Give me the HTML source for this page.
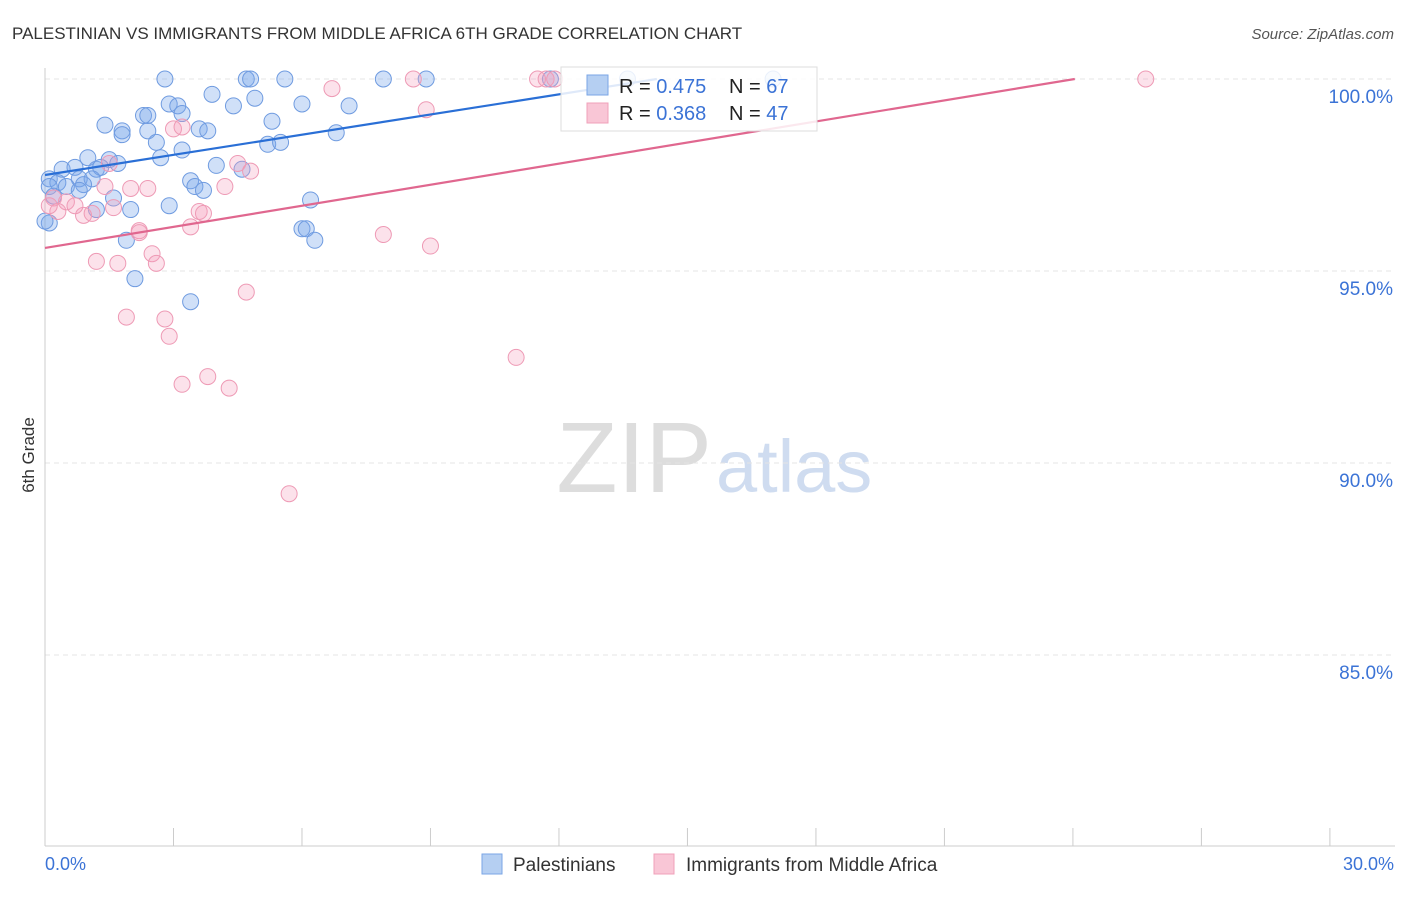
<!DOCTYPE html>
<html><head><meta charset="utf-8"><style>
body{margin:0;background:#fff;font-family:"Liberation Sans",sans-serif}
svg text{font-family:"Liberation Sans",sans-serif}
</style></head><body>
<svg id="c" width="1406" height="892" xmlns="http://www.w3.org/2000/svg">
<text x="12" y="39" font-size="17" fill="#333">PALESTINIAN VS IMMIGRANTS FROM MIDDLE AFRICA 6TH GRADE CORRELATION CHART</text>
<text x="1394" y="39" font-size="15" fill="#555" text-anchor="end" font-style="italic">Source: ZipAtlas.com</text>
<text x="712" y="492" font-size="100" fill="#ddd" text-anchor="end" font-family="Liberation Serif">ZIP</text>
<text x="716" y="492" font-size="74" fill="#cfdcf0">atlas</text>
<text transform="translate(34,455) rotate(-90)" font-size="17" fill="#333" text-anchor="middle">6th Grade</text>
<g id="grid"></g><g id="marks"></g>
<g>
<rect x="561" y="67" width="256" height="64" fill="rgba(255,255,255,0.85)" stroke="#ddd"/>
<rect x="587" y="75" width="21" height="20" fill="#b5cff2" stroke="#7aa6e6"/>
<rect x="587" y="103" width="21" height="20" fill="#f9c6d6" stroke="#f0a0ba"/>
<text x="619" y="93" font-size="20" fill="#222">R = <tspan fill="#3b73d6">0.475</tspan></text>
<text x="729" y="93" font-size="20" fill="#222">N = <tspan fill="#3b73d6">67</tspan></text>
<text x="619" y="120" font-size="20" fill="#222">R = <tspan fill="#3b73d6">0.368</tspan></text>
<text x="729" y="120" font-size="20" fill="#222">N = <tspan fill="#3b73d6">47</tspan></text>
</g>
<g>
<rect x="482" y="854" width="20" height="20" fill="#b5cff2" stroke="#7aa6e6"/>
<text x="513" y="871" font-size="19" fill="#333">Palestinians</text>
<rect x="654" y="854" width="20" height="20" fill="#f9c6d6" stroke="#f0a0ba"/>
<text x="686" y="871" font-size="19" fill="#333">Immigrants from Middle Africa</text>
</g>
</svg>
<script>
const yTicks=[100,95,90,85];
const xTickLabels=["0.0%","30.0%"];
const blueX=[2.8,4.7,4.8,5.6,7.9,8.9,13.6,17.0,11.8,3.9,4.9,2.9,3.1,4.4,6.0,7.1,2.3,2.4,3.2,5.3,1.4,1.8,1.8,2.4,3.6,3.8,6.8,2.6,3.2,5.2,5.5,2.7,1.0,1.5,0.4,0.7,1.2,1.7,1.3,4.0,4.6,0.1,0.3,0.8,1.1,0.1,0.5,0.9,0.8,3.4,3.5,3.7,0.2,1.6,6.2,1.2,2.0,2.9,6.0,6.1,6.3,1.9,2.1,3.4,0.1,0.0];
const blueY=[100,100,100,100,100,100,100,100,100,99.6,99.5,99.35,99.3,99.3,99.35,99.3,99.05,99.05,99.1,98.9,98.8,98.65,98.55,98.65,98.7,98.65,98.6,98.35,98.15,98.3,98.35,97.95,97.95,97.9,97.65,97.7,97.65,97.8,97.7,97.75,97.65,97.4,97.3,97.4,97.4,97.2,97.2,97.25,97.1,97.35,97.2,97.1,96.95,96.9,96.85,96.6,96.6,96.7,96.1,96.1,95.8,95.8,94.8,94.2,96.25,96.3];
const pinkX=[8.6,11.5,11.7,11.9,25.7,6.7,8.9,3.0,3.2,4.5,4.8,1.5,1.4,2.0,2.4,4.2,0.2,0.5,1.6,3.6,3.7,0.9,1.1,0.3,3.4,2.2,2.2,7.9,9.0,2.5,2.6,1.2,1.7,4.7,1.9,2.8,2.9,11.0,3.8,3.2,4.3,5.7,0.1,0.7];
const pinkY=[100,100,100,100,100,99.75,99.2,98.7,98.75,97.8,97.6,97.8,97.2,97.15,97.15,97.2,96.9,96.8,96.65,96.55,96.5,96.45,96.5,96.55,96.15,96.05,96.0,95.95,95.65,95.45,95.2,95.25,95.2,94.45,93.8,93.75,93.3,92.75,92.25,92.05,91.95,89.2,96.7,96.7];
const blueLine=[97.5,0.175], pinkLine=[95.6,0.183];
const X=v=>45+v*42.83, Y=v=>79+(100-v)*38.4;
const ns="http://www.w3.org/2000/svg";
const g=document.getElementById('grid'), m=document.getElementById('marks');
function mk(p,t,a){const e=document.createElementNS(ns,t);for(const k in a)e.setAttribute(k,a[k]);p.appendChild(e);return e;}
yTicks.forEach(t=>{
 const l=mk(g,'line',{x1:45,x2:1395,y1:Y(t),y2:Y(t),stroke:'#e4e4e4','stroke-dasharray':'5,4'});
 
 
 const tx=mk(g,'text',{x:1393,y:Y(t)+24,'font-size':19,fill:'#3b73d6','text-anchor':'end'});tx.textContent=t.toFixed(1)+'%';
 
 
});
mk(g,'line',{x1:45,x2:45,y1:68,y2:846,stroke:'#ccc'});
mk(g,'line',{x1:45,x2:1395,y1:846,y2:846,stroke:'#ccc'});
for(let i=0;i<=10;i++){const t=mk(g,'line',{x1:X(i*3),x2:X(i*3),y1:828,y2:846,stroke:'#ccc'});
 
 }
[[0,xTickLabels[0],'start',45],[30,xTickLabels[1],'end',1394]].forEach(d=>{const t=mk(g,'text',{x:d[3],y:870,'font-size':18,fill:'#3b73d6','text-anchor':d[2]});t.textContent=d[1];
 
 });
blueX.forEach((x,i)=>{const c=mk(m,'circle',{cx:X(x),cy:Y(blueY[i]),r:8,fill:'rgba(120,165,235,0.35)',stroke:'#6f9be0','stroke-width':1});
 
 });
pinkX.forEach((x,i)=>{const c=mk(m,'circle',{cx:X(x),cy:Y(pinkY[i]),r:8,fill:'rgba(245,160,190,0.3)',stroke:'#ee9ab5','stroke-width':1});
 
 });
const bEnd=(100-blueLine[0])/blueLine[1], pEnd=(100-pinkLine[0])/pinkLine[1];
const bl=mk(m,'line',{x1:X(0),y1:Y(blueLine[0]),x2:X(bEnd),y2:Y(100),stroke:'#2a6fd6','stroke-width':2.2});


const pl=mk(m,'line',{x1:X(0),y1:Y(pinkLine[0]),x2:X(pEnd),y2:Y(100),stroke:'#e0678f','stroke-width':2.2});


</script>
</body></html>
